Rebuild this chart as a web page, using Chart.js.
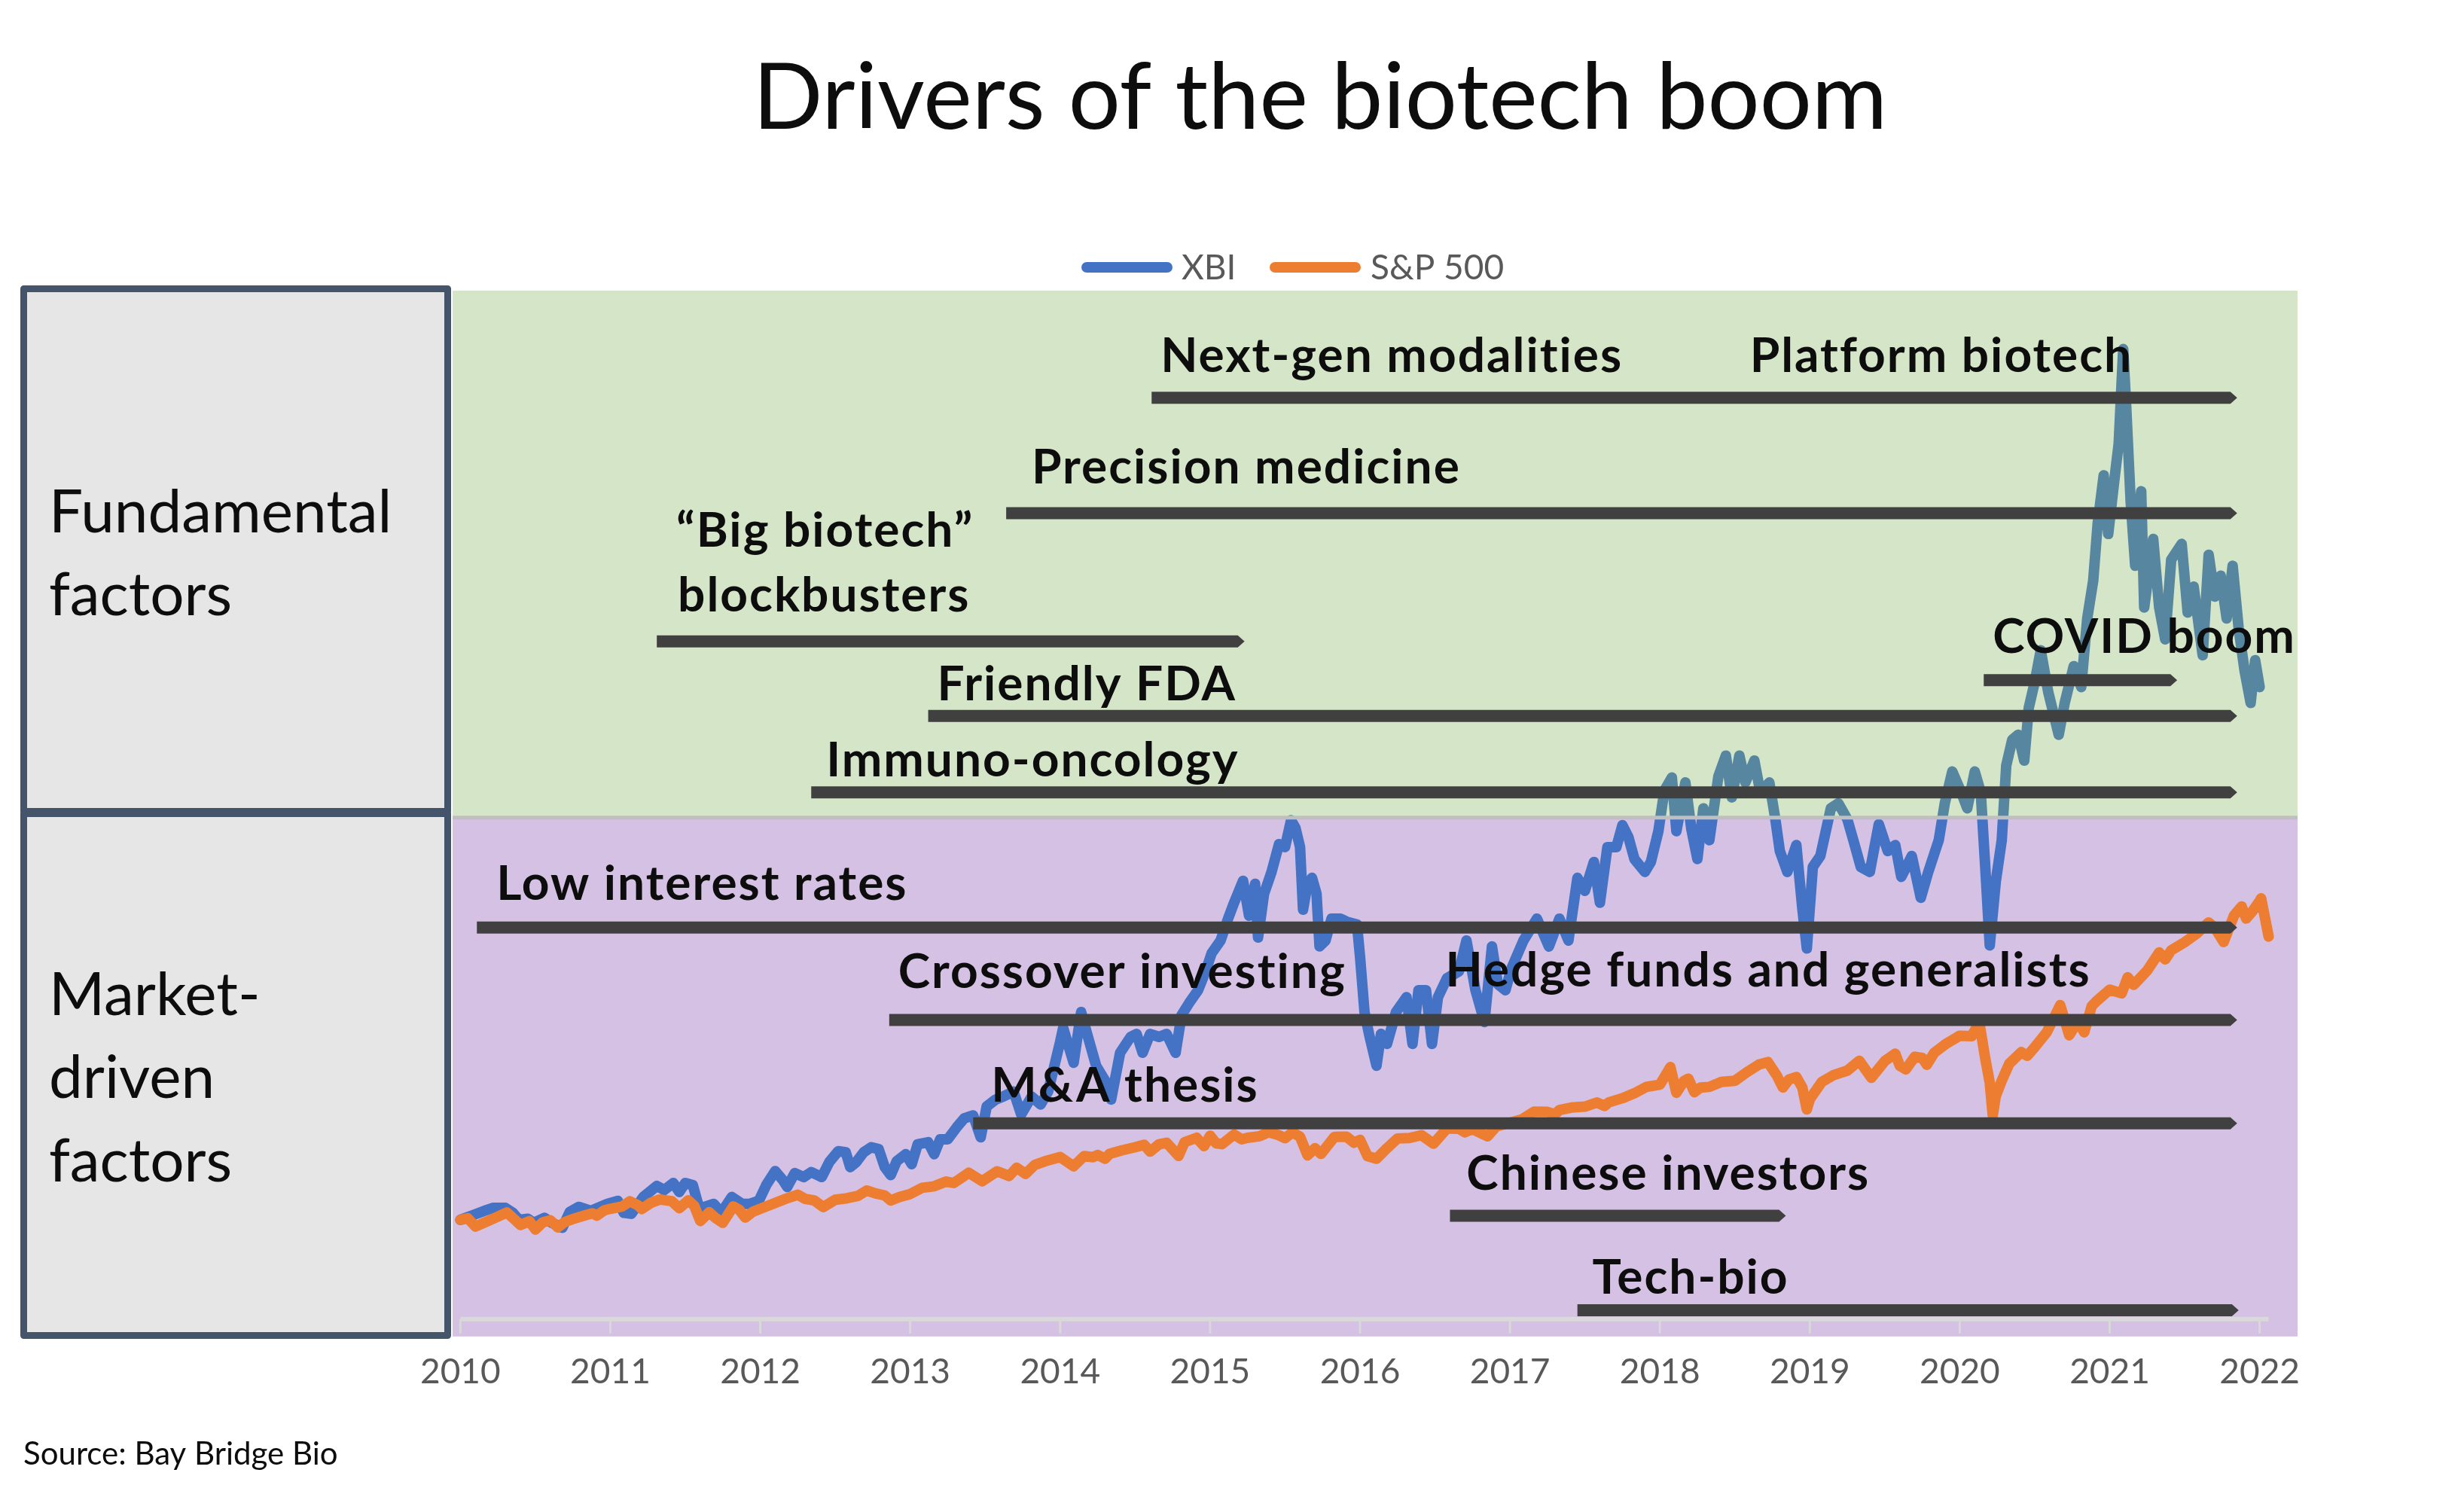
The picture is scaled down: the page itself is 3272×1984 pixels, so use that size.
<!DOCTYPE html>
<html>
<head>
<meta charset="utf-8">
<script src="https://cdn.jsdelivr.net/npm/chart.js@4.4.1/dist/chart.umd.min.js"></script>
<style>
html,body{margin:0;padding:0;background:#ffffff;}
canvas{display:block;}
</style>
</head>
<body>
<canvas id="c" width="3272" height="1984" style="width:3272px;height:1984px"></canvas>
<script>
// ---------- DATA ----------
const yearTicks = [2010,2011,2012,2013,2014,2015,2016,2017,2018,2019,2020,2021,2022];

// XBI, indexed to 100 at start of 2010
const xbiDates = [2010.00,2010.09,2010.16,2010.22,2010.30,2010.35,2010.39,2010.45,2010.49,2010.56,2010.61,2010.68,2010.73,2010.79,2010.87,2010.98,
2011.05,2011.09,2011.14,2011.22,2011.31,2011.36,2011.42,2011.46,2011.50,2011.55,2011.59,2011.63,2011.69,2011.74,2011.81,2011.88,2011.93,2011.99,
2012.04,2012.10,2012.15,2012.18,2012.23,2012.29,2012.34,2012.41,2012.46,2012.52,2012.57,2012.60,2012.64,2012.69,2012.74,2012.79,2012.83,2012.87,2012.91,2012.97,
2013.01,2013.05,2013.12,2013.16,2013.20,2013.25,2013.31,2013.36,2013.42,2013.47,2013.51,2013.57,2013.62,2013.69,2013.74,2013.81,2013.87,2013.92,
2014.00,2014.02,2014.09,2014.14,2014.18,2014.24,2014.30,2014.34,2014.40,2014.47,2014.51,2014.55,2014.60,2014.66,2014.71,2014.77,2014.81,2014.86,2014.92,2014.97,
2015.01,2015.07,2015.12,2015.16,2015.22,2015.26,2015.30,2015.32,2015.36,2015.41,2015.46,2015.50,2015.54,2015.57,2015.60,2015.62,2015.65,2015.68,2015.71,2015.73,2015.77,2015.81,2015.87,2015.91,2015.98,
2016.00,2016.03,2016.06,2016.11,2016.14,2016.18,2016.24,2016.31,2016.35,2016.39,2016.44,2016.48,2016.52,2016.58,2016.66,2016.71,2016.77,2016.83,2016.88,2016.92,2016.97,
2017.01,2017.09,2017.18,2017.26,2017.33,2017.39,2017.45,2017.50,2017.56,2017.60,2017.65,2017.71,2017.75,2017.79,2017.83,2017.90,2017.94,2017.99,
2018.03,2018.08,2018.11,2018.17,2018.21,2018.25,2018.29,2018.33,2018.39,2018.44,2018.48,2018.53,2018.57,2018.63,2018.67,2018.73,2018.77,2018.80,2018.85,2018.91,2018.95,2018.98,
2019.02,2019.07,2019.14,2019.19,2019.25,2019.29,2019.34,2019.40,2019.46,2019.52,2019.57,2019.61,2019.68,2019.74,2019.79,2019.86,2019.90,2019.95,
2020.01,2020.05,2020.10,2020.14,2020.17,2020.20,2020.24,2020.28,2020.31,2020.35,2020.39,2020.43,2020.46,2020.50,2020.54,2020.59,2020.66,2020.70,2020.76,2020.81,2020.85,2020.89,2020.92,2020.96,2020.99,
2021.03,2021.06,2021.09,2021.11,2021.14,2021.17,2021.21,2021.23,2021.29,2021.33,2021.37,2021.41,2021.48,2021.52,2021.56,2021.62,2021.66,2021.70,2021.74,2021.78,2021.82,2021.86,2021.90,2021.94,2021.97,2022.00];
const xbiIndex = [100,105,109,112,112,107,100,101,97,102,97,92,108,113,109,116,
119,107,106,123,134,130,137,128,137,135,113,113,116,107,123,116,116,119,
135,149,140,133,147,143,148,143,158,169,168,153,158,168,173,171,153,145,159,166,
156,176,178,166,181,181,193,202,205,183,214,221,224,229,206,224,216,229,
279,293,258,309,287,255,240,221,268,284,287,268,287,284,287,268,306,318,331,350,
368,381,403,419,441,406,438,384,428,450,478,475,502,494,475,412,438,444,428,375,381,403,403,400,397,
365,309,287,255,287,277,309,324,277,331,331,277,324,343,350,381,331,299,375,337,331,
353,381,403,375,403,381,444,431,460,419,475,475,497,485,463,450,460,491,
532,545,491,540,493,463,514,482,546,567,525,567,540,562,530,540,503,471,450,477,413,373,
455,466,514,519,503,482,455,450,498,471,477,445,466,424,450,482,519,551,
530,514,551,530,455,376,440,482,557,583,588,562,615,641,673,631,588,620,657,636,705,743,801,849,790,
843,881,976,918,822,758,833,716,785,716,684,764,780,711,737,668,769,727,748,705,758,695,652,620,663,636];

// S&P 500, indexed to 100 at start of 2010
const spxDates = [2010.00,2010.05,2010.10,2010.18,2010.25,2010.31,2010.36,2010.40,2010.46,2010.50,2010.55,2010.60,2010.65,2010.70,2010.75,2010.83,2010.88,2010.91,2010.96,
2011.00,2011.08,2011.13,2011.18,2011.21,2011.27,2011.33,2011.41,2011.46,2011.52,2011.56,2011.60,2011.66,2011.70,2011.75,2011.82,2011.86,2011.90,2011.95,
2012.00,2012.08,2012.16,2012.25,2012.30,2012.36,2012.42,2012.50,2012.58,2012.65,2012.71,2012.77,2012.83,2012.87,2012.93,
2013.00,2013.08,2013.16,2013.24,2013.29,2013.33,2013.39,2013.48,2013.58,2013.66,2013.71,2013.77,2013.83,2013.91,
2014.00,2014.09,2014.16,2014.22,2014.25,2014.30,2014.33,2014.41,2014.50,2014.56,2014.60,2014.66,2014.71,2014.79,2014.83,2014.91,2014.96,
2015.00,2015.04,2015.08,2015.16,2015.21,2015.25,2015.33,2015.39,2015.46,2015.50,2015.55,2015.60,2015.65,2015.70,2015.74,2015.83,2015.91,2015.96,
2016.00,2016.05,2016.11,2016.18,2016.25,2016.33,2016.41,2016.49,2016.58,2016.66,2016.70,2016.75,2016.85,2016.91,
2017.00,2017.08,2017.16,2017.25,2017.30,2017.33,2017.41,2017.50,2017.58,2017.63,2017.66,2017.75,2017.83,2017.91,
2018.00,2018.07,2018.11,2018.16,2018.19,2018.23,2018.27,2018.33,2018.41,2018.50,2018.58,2018.66,2018.72,2018.78,2018.82,2018.86,2018.91,2018.95,2018.98,
2019.00,2019.08,2019.16,2019.25,2019.33,2019.41,2019.50,2019.57,2019.60,2019.64,2019.70,2019.75,2019.78,2019.83,2019.91,
2020.00,2020.08,2020.13,2020.17,2020.20,2020.22,2020.24,2020.28,2020.33,2020.41,2020.45,2020.50,2020.58,2020.67,2020.73,2020.79,2020.83,2020.88,2020.91,
2021.00,2021.08,2021.12,2021.16,2021.25,2021.33,2021.37,2021.41,2021.50,2021.58,2021.66,2021.70,2021.76,2021.83,2021.88,2021.91,2021.95,
2022.00,2022.01,2022.03,2022.06];
const spxIndex = [100.0,101.5,93.2,98.5,103.2,107.4,100.5,94.8,98.6,90.2,97.5,99.5,92.4,98.0,100.7,104.4,106.5,104.2,109.5,
111.0,113.5,118.5,115.0,110.9,117.0,120.4,118.7,111.7,119.5,114.0,98.8,107.6,102.0,97.0,113.4,110.0,102.3,108.0,
111.0,115.8,120.6,125.2,121.0,119.5,112.8,120.2,121.7,124.0,129.4,126.5,124.5,119.4,123.0,
125.9,132.2,133.7,138.5,137.0,141.0,147.3,138.8,148.8,144.1,152.3,146.2,155.1,159.4,
163.1,153.8,164.1,163.0,165.2,161.5,166.3,169.8,173.0,175.5,168.6,176.0,177.5,164.3,178.1,182.5,174.1,
184.6,177.0,176.1,185.8,181.0,182.5,184.1,188.1,185.0,182.1,187.9,183.5,164.9,172.0,166.3,183.5,183.6,177.5,
180.4,164.1,161.4,172.0,181.8,182.3,185.1,176.6,191.9,191.6,188.0,191.3,184.0,194.1,
197.6,201.1,208.7,208.6,206.0,210.4,212.9,213.9,218.0,214.5,218.2,222.3,227.3,233.7,
236.0,253.6,227.8,239.5,242.0,228.4,233.0,233.7,238.7,239.9,248.5,256.1,258.7,245.0,233.1,241.0,243.6,233.0,211.0,
221.3,238.7,245.7,250.1,260.0,242.9,259.7,267.1,255.0,251.3,264.0,262.8,256.0,268.1,277.2,
285.2,284.7,298.9,262.3,238.0,205.0,224.3,240.0,257.0,268.7,265.0,273.6,288.7,316.0,285.7,300.0,288.6,315.0,319.7,
331.5,327.8,344.0,336.4,350.7,369.0,362.0,371.1,379.3,387.9,399.2,394.0,379.5,406.4,415.3,403.1,410.0,
420.7,423.4,408.0,385.0];

// Drivers: horizontal arrow bars (start year, end year, level on the index scale)
const driverStart = [2014.61,2013.64,2011.31,2020.16,2013.12,2012.34,2010.11,2012.86,2013.42,2016.60,2017.45];
const driverEnd   = [2021.85,2021.85,2015.23,2021.45,2021.85,2021.85,2021.85,2021.85,2021.85,2018.84,2021.86];
const driverLevel = [927,811,682,643,607,530,394,301,197,104,9];

// Driver captions (text, year of left edge, index value of baseline)
const captionText = ["Next-gen modalities","Platform biotech","Precision medicine","\u201CBig biotech\u201D","blockbusters","Friendly FDA","COVID boom","Immuno-oncology","Low interest rates","Crossover investing","Hedge funds and generalists","M&A thesis","Chinese investors","Tech-bio"];
const captionYear = [2014.67,2018.60,2013.81,2011.44,2011.45,2013.18,2020.22,2012.44,2010.24,2012.92,2016.57,2013.54,2016.71,2017.55];
const captionValue = [953,953,841,777,712,623,670,546,422,333,335,219,130,26];

const seriesNames = ["XBI","S&P 500"];
const zoneBoundary = 505;   // index level separating the two zones
const axisEnd = 2022.06;

// ---------- DRAWING ----------
const FONT = 'Lato, "Open Sans", sans-serif';

function arrowBar(ctx, x0, x1, yc, h) {
  const tip = 9;
  ctx.beginPath();
  ctx.moveTo(x0, yc - h/2);
  ctx.lineTo(x1 - tip, yc - h/2);
  ctx.lineTo(x1, yc);
  ctx.lineTo(x1 - tip, yc + h/2);
  ctx.lineTo(x0, yc + h/2);
  ctx.closePath();
  ctx.fill();
}

const decor = {
  id: 'decor',
  beforeDatasetsDraw(chart) {
    const {ctx, chartArea: a, scales: {x, y}} = chart;
    const yb = y.getPixelForValue(zoneBoundary);
    ctx.save();
    ctx.fillStyle = '#D5C1E3';
    ctx.fillRect(a.left, yb, a.right - a.left, a.bottom - yb);
    const y0 = y.getPixelForValue(0);
    ctx.strokeStyle = '#D9D9D9';
    ctx.lineWidth = 3;
    x.ticks.forEach(t => {
      const px = x.getPixelForValue(t.value);
      ctx.beginPath(); ctx.moveTo(px, y0); ctx.lineTo(px, y0 + 19); ctx.stroke();
    });
    ctx.lineWidth = 6;
    ctx.beginPath();
    ctx.moveTo(x.getPixelForValue(yearTicks[0]), y0);
    ctx.lineTo(x.getPixelForValue(axisEnd), y0);
    ctx.stroke();
    ctx.restore();
  },
  afterDatasetsDraw(chart) {
    const {ctx, chartArea: a, scales: {x, y}} = chart;
    const yb = y.getPixelForValue(zoneBoundary);
    ctx.save();
    // translucent green zone over the lines
    ctx.fillStyle = 'rgba(127,176,88,0.33)';
    ctx.fillRect(a.left, a.top, a.right - a.left, yb - a.top);
    ctx.fillStyle = '#BFBFBF';
    ctx.fillRect(a.left, yb - 2, a.right - a.left, 5);
    // arrow bars
    ctx.fillStyle = '#404040';
    for (let i = 0; i < driverStart.length; i++) {
      arrowBar(ctx, x.getPixelForValue(driverStart[i]), x.getPixelForValue(driverEnd[i]), y.getPixelForValue(driverLevel[i]), 16);
    }
    // captions
    ctx.fillStyle = '#0D0D0D';
    ctx.font = 'bold 64px ' + FONT;
    if ('letterSpacing' in ctx) ctx.letterSpacing = '2px';
    ctx.textAlign = 'left';
    ctx.textBaseline = 'alphabetic';
    for (let i = 0; i < captionText.length; i++) {
      ctx.fillText(captionText[i], x.getPixelForValue(captionYear[i]), y.getPixelForValue(captionValue[i]));
    }
    if ('letterSpacing' in ctx) ctx.letterSpacing = '0px';
    ctx.restore();
  },
  afterDraw(chart) {
    const ctx = chart.ctx;
    const ds = chart.data.datasets;
    ctx.save();
    // left category boxes
    ctx.fillStyle = '#E6E6E6';
    ctx.strokeStyle = '#44546A';
    ctx.lineWidth = 9;
    ctx.lineJoin = 'round';
    ctx.beginPath(); ctx.rect(31.5, 383.5, 563, 694); ctx.fill(); ctx.stroke();
    ctx.beginPath(); ctx.rect(31.5, 1080.5, 563, 693); ctx.fill(); ctx.stroke();
    ctx.fillStyle = '#0D0D0D';
    ctx.font = '80px ' + FONT;
    ctx.textAlign = 'left';
    ctx.textBaseline = 'alphabetic';
    ctx.fillText('Fundamental', 65, 707);
    ctx.fillText('factors', 65, 817);
    ctx.fillText('Market-', 65, 1348);
    ctx.fillText('driven', 65, 1458);
    ctx.fillText('factors', 65, 1569);
    // title
    ctx.font = '122px ' + FONT;
    ctx.textAlign = 'center';
    ctx.fillStyle = '#0D0D0D';
    ctx.fillText('Drivers of the biotech boom', 1753, 171);
    // legend
    ctx.textAlign = 'left';
    ctx.font = '46px ' + FONT;
    ctx.lineCap = 'round';
    ctx.lineWidth = 14;
    const legendOrder = [1, 0]; // XBI first, then S&P 500
    const swX = [1443, 1693];
    const txX = [1569, 1820];
    legendOrder.forEach((di, k) => {
      ctx.strokeStyle = ds[di].borderColor;
      ctx.beginPath(); ctx.moveTo(swX[k], 355); ctx.lineTo(swX[k] + 107, 355); ctx.stroke();
      ctx.fillStyle = '#595959';
      ctx.fillText(ds[di].label, txX[k], 371);
    });
    // source
    ctx.fillStyle = '#0D0D0D';
    ctx.font = '42px ' + FONT;
    ctx.fillText('Source: Bay Bridge Bio', 31, 1945);
    ctx.restore();
  }
};

function start() {
  const ctx = document.getElementById('c').getContext('2d');
  new Chart(ctx, {
    type: 'line',
    data: {
      datasets: [
        { label: seriesNames[1], data: spxDates.map((d, i) => ({x: d, y: spxIndex[i]})),
          borderColor: '#ED7D31', backgroundColor: '#ED7D31', borderWidth: 14, pointRadius: 0,
          tension: 0, fill: false, order: 1, borderJoinStyle: 'round', borderCapStyle: 'round' },
        { label: seriesNames[0], data: xbiDates.map((d, i) => ({x: d, y: xbiIndex[i]})),
          borderColor: '#4472C4', backgroundColor: '#4472C4', borderWidth: 14, pointRadius: 0,
          tension: 0, fill: false, order: 2, borderJoinStyle: 'round', borderCapStyle: 'round' }
      ]
    },
    options: {
      responsive: false,
      animation: false,
      devicePixelRatio: 1,
      layout: { padding: { left: 601, right: 221, top: 386, bottom: 114 } },
      scales: {
        x: {
          type: 'linear', min: 2009.948, max: 2022.253,
          afterBuildTicks: s => { s.ticks = yearTicks.map(v => ({value: v})); },
          ticks: { callback: v => String(v), font: { family: FONT, size: 46 }, color: '#595959',
                   padding: 20, maxRotation: 0, autoSkip: false },
          grid: { display: false, drawTicks: false },
          border: { display: false }
        },
        y: { display: false, min: -17.4, max: 1034.8 }
      },
      plugins: { legend: { display: false }, title: { display: false }, tooltip: { enabled: false } }
    },
    plugins: [decor]
  });
}

Promise.all([
  document.fonts.load('46px Lato'), document.fonts.load('bold 64px Lato'), document.fonts.load('122px Lato')
]).then(start, start);
</script>
</body>
</html>
